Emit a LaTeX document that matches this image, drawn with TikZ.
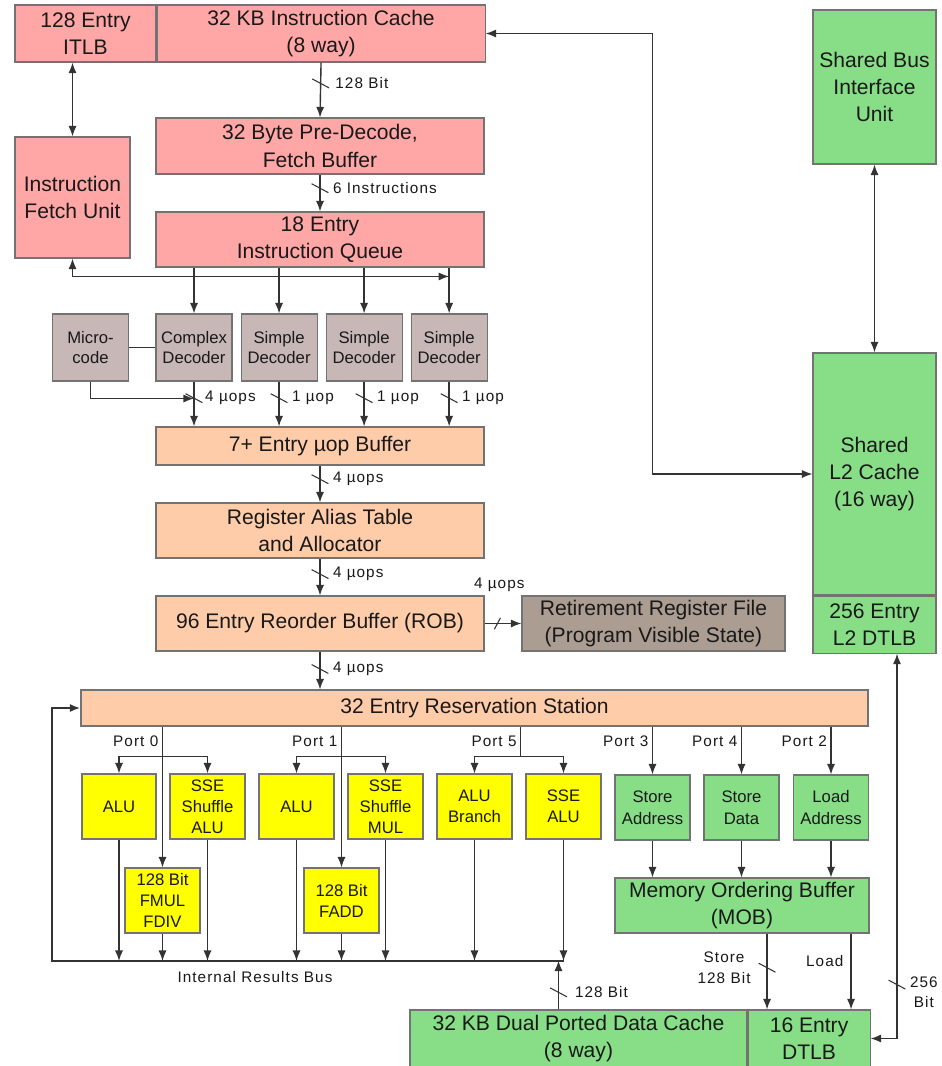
\documentclass[tikz,border=0pt]{standalone}
\usepackage{fontspec}
\setmainfont{Liberation Sans}
\newfontfamily\lblfont[LetterSpace=7]{Liberation Sans}
\usepackage{tikz}
\usetikzlibrary{positioning,calc,arrows.meta}
\definecolor{frontpink}{RGB}{255,166,166}
\definecolor{decgray}{RGB}{200,183,183}
\definecolor{ooorange}{RGB}{255,204,170}
\definecolor{retgray}{RGB}{172,157,147}
\definecolor{memgreen}{RGB}{135,222,135}
\definecolor{exyellow}{RGB}{255,255,0}
\tikzstyle{line} = [draw,line width=0.8pt,black!80]
\tikzstyle{arr} = [line,-{Latex[length=6pt,width=4.6pt]}]
\tikzstyle{darr} = [line,{Latex[length=6pt,width=4.6pt]}-{Latex[length=6pt,width=4.6pt]}]
\tikzstyle{bus} = [line,line width=1.3pt]
\tikzstyle{block} = [draw=black!55,line width=0.6pt,inner sep=0pt,align=center,text=black!90]
\tikzstyle{front} = [block,fill=frontpink,font=\fontsize{12}{15.5}\selectfont]
\tikzstyle{decoder} = [block,fill=decgray,font=\fontsize{9.5}{11.3}\selectfont]
\tikzstyle{ooo} = [block,fill=ooorange,font=\fontsize{12}{15.5}\selectfont]
\tikzstyle{retire} = [block,fill=retgray,font=\fontsize{12}{15.5}\selectfont]
\tikzstyle{mem} = [block,fill=memgreen,font=\fontsize{12}{15.5}\selectfont]
\tikzstyle{memsmall} = [block,fill=memgreen,font=\fontsize{9.5}{12.3}\selectfont]
\tikzstyle{exec} = [block,fill=exyellow,font=\fontsize{9.5}{12}\selectfont]
\tikzstyle{lbl} = [font=\lblfont\fontsize{8.7}{11.5}\selectfont,inner sep=1pt,align=center,text=black!90]
\tikzstyle{tickbase} = [draw,line width=0.6pt,black!80,inner sep=0pt,minimum height=0pt]
\tikzstyle{tickmark} = [tickbase,minimum width=0.38cm,rotate=-28]
\tikzstyle{tickh} = [tickbase,minimum width=0.26cm,rotate=62]
\tikzset{sz/.style 2 args={minimum width=#1*0.02cm,minimum height=#2*0.02cm}}

\begin{document}
\begin{tikzpicture}[x=0.02cm,y=-0.02cm]
\useasboundingbox[fill=white] (0,0) rectangle (941,1066);

% front end
\node[front,sz={141}{57}] (itlb) at (85.5,33.5) {128 Entry\\ITLB};
\node[front,sz={328}{57},right=0pt of itlb] (icache) {32 KB Instruction Cache\\(8 way)};
\node[front,sz={328}{56}] (predec) at (320,146) {32 Byte Pre-Decode,\\Fetch Buffer};
\node[front,sz={115}{121}] (ifu) at (72.5,197.5) {Instruction\\Fetch Unit};
\node[front,sz={328}{55}] (iq) at (320,239.5) {18 Entry\\Instruction Queue};

\node[decoder,sz={76}{67}] (micro) at (90.5,347.5) {Micro-\\code};
\node[decoder,sz={76}{67}] (cdec) at (194,347.5) {Complex\\Decoder};
\node[decoder,sz={76}{67},right=0.16cm of cdec] (sdec1) {Simple\\Decoder};
\node[decoder,sz={76}{67},right=0.16cm of sdec1] (sdec2) {Simple\\Decoder};
\node[decoder,sz={76}{67},right=0.16cm of sdec2] (sdec3) {Simple\\Decoder};

% out of order part
\node[ooo,sz={328}{38}] (uopbuf) at (320,446) {7+ Entry µop Buffer};
\node[ooo,sz={328}{55}] (rat) at (320,530.5) {Register Alias Table\\and Allocator};
\node[ooo,sz={328}{55}] (rob) at (320,623.5) {96 Entry Reorder Buffer (ROB)};
\node[retire,sz={263}{55}] (rrf) at (653.5,623.5) {Retirement Register File\\(Program Visible State)};
\node[ooo,sz={787}{36}] (rs) at (474.5,708) {32 Entry Reservation Station};

% execution units
\node[exec,sz={74}{65}] (alu0) at (119,806.5) {ALU};
\node[exec,sz={75}{65}] (shufalu) at (207.5,806.5) {SSE\\Shuffle\\ALU};
\node[exec,sz={75}{65}] (fmul) at (162.5,900.5) {128 Bit\\FMUL\\FDIV};
\node[exec,sz={75}{65}] (alu1) at (296.5,806.5) {ALU};
\node[exec,sz={75}{65}] (shufmul) at (385.5,806.5) {SSE\\Shuffle\\MUL};
\node[exec,sz={75}{65}] (fadd) at (341.5,900.5) {128 Bit\\FADD};
\node[exec,sz={75}{65}] (alubr) at (474.5,806.5) {ALU\\Branch};
\node[exec,sz={75}{65}] (ssealu) at (563.5,806.5) {SSE\\ALU};

% memory side
\node[memsmall,sz={75}{65}] (stadr) at (652.5,807.5) {Store\\Address};
\node[memsmall,sz={75}{65}] (stdata) at (741.5,807.5) {Store\\Data};
\node[memsmall,sz={75}{65}] (ldadr) at (831,807.5) {Load\\Address};
\node[mem,sz={254}{55}] (mob) at (742,905.5) {Memory Ordering Buffer\\(MOB)};
\node[mem,sz={337}{57}] (dcache) at (578.5,1038.5) {32 KB Dual Ported Data Cache\\(8 way)};
\node[mem,sz={122}{57},right=0pt of dcache] (dtlb) {16 Entry\\DTLB};
\node[mem,sz={123}{154}] (sbiu) at (874.5,87) {Shared Bus\\Interface\\Unit};
\node[mem,sz={123}{242}] (l2) at (874.5,474) {Shared\\L2 Cache\\(16 way)};
\node[mem,sz={123}{57},below=0pt of l2] (l2dtlb) {256 Entry\\L2 DTLB};

% front end connections
\draw[darr] (itlb.south -| ifu.north) -- (ifu.north);
\draw[arr] (icache.south) -- (predec.north) node[pos=.38,tickmark]{} node[pos=.38,right=7pt,lbl]{128 Bit};
\draw[arr] (predec.south) -- (iq.north) node[pos=.37,tickmark]{} node[pos=.37,right=6pt,lbl]{6 Instructions};
\path (sdec3.north) ++(0,-37) coordinate (fbus);
\draw[darr] (ifu.south) |- (fbus);
\foreach \d in {cdec,sdec1,sdec2,sdec3}
  \draw[arr] (iq.south -| \d.north) -- (\d.north);
\draw[line] (micro.east) -- (cdec.west);
\path (cdec.south) ++(0,17) coordinate (mcjoin);
\draw[arr] (micro.south) |- (mcjoin);
\draw[arr] (cdec.south) -- (uopbuf.north -| cdec.south) node[pos=.37,tickmark]{} node[pos=.37,right=5pt,lbl]{4 µops};
\foreach \d in {sdec1,sdec2,sdec3}
  \draw[arr] (\d.south) -- (uopbuf.north -| \d.south) node[pos=.37,tickmark]{} node[pos=.37,right=6pt,lbl]{1 µop};

% in order pipe
\draw[arr] (uopbuf.south) -- (rat.north) node[pos=.37,tickmark]{} node[pos=.37,right=6pt,lbl]{4 µops};
\draw[arr] (rat.south) -- (rob.north) node[pos=.42,tickmark]{} node[pos=.42,right=6pt,lbl]{4 µops};
\draw[arr] (rob.east) -- (rrf.west) node[pos=.35,tickh]{} node[pos=.4,above=17pt,lbl]{4 µops};
\draw[arr] (rob.south) -- (rs.north -| rob.south) node[pos=.46,tickmark]{} node[pos=.46,right=6pt,lbl]{4 µops};

% ports
\draw[arr] (rs.south -| fmul.north) -- (fmul.north) node[pos=.106,left=1pt,lbl]{Port 0};
\draw[darr] (alu0.north) -- ++(0,-17) -| (shufalu.north);
\draw[arr] (rs.south -| fadd.north) -- (fadd.north) node[pos=.106,left=1pt,lbl]{Port 1};
\draw[darr] (alu1.north) -- ++(0,-17) -| (shufmul.north);
\coordinate (p5) at ($(alubr.north)!0.52!(ssealu.north)+(0,-17)$);
\draw[line] (rs.south -| p5) -- (p5) node[pos=.48,left=1pt,lbl]{Port 5};
\draw[darr] (alubr.north) -- ++(0,-17) -| (ssealu.north);
\draw[arr] (rs.south -| stadr.north) -- (stadr.north) node[pos=.31,left=1pt,lbl]{Port 3};
\draw[arr] (rs.south -| stdata.north) -- (stdata.north) node[pos=.31,left=1pt,lbl]{Port 4};
\draw[arr] (rs.south -| ldadr.north) -- (ldadr.north) node[pos=.31,left=1pt,lbl]{Port 2};

% results bus
\coordinate (busW) at (52,961);
\coordinate (busE) at (ssealu.south |- busW);
\foreach \u in {alu0,fmul,shufalu,alu1,fadd,shufmul,alubr,ssealu}
  \draw[arr] (\u.south) -- (\u.south |- busW);
\draw[bus,-{Latex[length=6pt,width=4.6pt]}] (busE) -- (busW) |- (rs.west);
\node[lbl] (buslbl) at (255,977) {Internal Results Bus};
\draw[arr] ($(dcache.north)+(-20,0)$) -- ++(0,-49) node[pos=.35,tickmark]{} node[pos=.35,right=8pt,lbl]{128 Bit};

% memory connections
\foreach \u in {stadr,stdata,ldadr}
  \draw[arr] (\u.south) -- (\u.south |- mob.north);
\coordinate (stx) at ($(dtlb.north)+(-42,0)$);
\coordinate (ldx) at ($(dtlb.north)+(42,0)$);
\draw[arr] (mob.south -| stx) -- (stx) node[pos=.45,tickmark]{} node[pos=.45,left=8pt,lbl]{Store\\128 Bit};
\draw[arr] (mob.south -| ldx) -- (ldx) node[pos=.36,left=3pt,lbl]{Load};
\coordinate (l2x) at ($(l2dtlb.south)+(22.5,0)$);
\draw[darr] (l2x) |- (dtlb.east) node[pos=.43,tickmark]{} node[pos=.44,right=6pt,lbl]{256\\Bit};
\draw[darr] (sbiu.south) -- (l2.north);
\draw[darr] (icache.east) -| ($(l2.west)+(-160,0)$) -- (l2.west);
\end{tikzpicture}
\end{document}
